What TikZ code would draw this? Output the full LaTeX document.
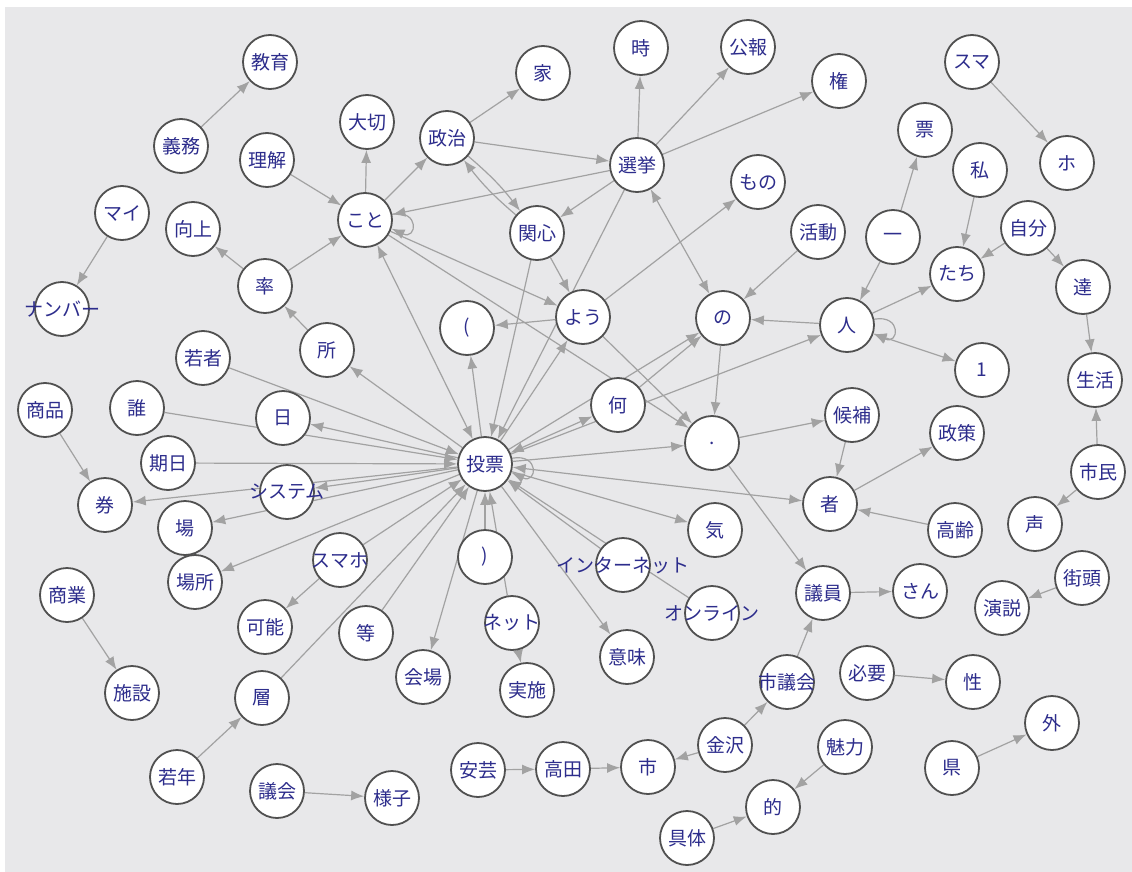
\documentclass[tikz,border=0pt]{standalone}
\usepackage{fontspec}
\newfontfamily\cjk{Noto Sans CJK JP}
\usetikzlibrary{arrows.meta}
\definecolor{bggray}{RGB}{232,232,234}
\definecolor{edgegray}{RGB}{162,162,162}
\definecolor{txtnavy}{RGB}{45,45,140}
\definecolor{ringgray}{RGB}{80,80,80}
\pgfdeclarelayer{bg}
\pgfdeclarelayer{edges}
\pgfsetlayers{bg,edges,main}
\tikzset{
  wnode/.style={circle, draw=ringgray, line width=1.8pt, fill=white, minimum size=54pt, inner sep=0pt,
    text=txtnavy, font=\cjk\fontsize{19}{19}\selectfont},
  ed/.style={draw=edgegray, line width=1.2pt, -{Latex[length=13pt,width=10pt]}},
  bd/.style={draw=edgegray, line width=1.2pt, {Latex[length=13pt,width=10pt]}-{Latex[length=13pt,width=10pt]}},
}
\newcommand{\wn}[4]{\node[wnode] (#1) at (#2,#3) {\makebox[0pt]{#4}};}
\begin{document}
\begin{tikzpicture}[x=1pt,y=-1pt]
\useasboundingbox (0,0) rectangle (1132,872);
\begin{pgfonlayer}{bg}
\fill[white] (0,0) rectangle (1132,872);
\fill[bggray] (5,7) rectangle (1132,872);
\end{pgfonlayer}
% nodes
\wn{kyoiku}{270}{62}{教育}
\wn{gimu}{181}{146}{義務}
\wn{rikai}{267}{160}{理解}
\wn{mai}{122}{213}{マイ}
\wn{kojo}{193}{229}{向上}
\wn{taisetsu}{367}{122}{大切}
\wn{koto}{365}{220}{こと}
\wn{ritsu}{265}{286}{率}
\wn{number}{62}{309}{ナンバー}
\wn{seiji}{447}{138}{政治}
\wn{ie}{543}{73}{家}
\wn{toki}{641}{48}{時}
\wn{koho}{748}{47}{公報}
\wn{ken}{839}{81}{権}
\wn{senkyo}{637}{165}{選挙}
\wn{kanshin}{537}{233}{関心}
\wn{mono}{758}{182}{もの}
\wn{katsudo}{818}{232}{活動}
\wn{ichi}{893}{237}{一}
\wn{hyo}{925}{130}{票}
\wn{suma}{972}{62}{スマ}
\wn{watashi}{980}{170}{私}
\wn{ho}{1067}{163}{ホ}
\wn{jibun}{1028}{228}{自分}
\wn{tachi}{957}{274}{たち}
\wn{tachii}{1083}{287}{達}
\wn{hito}{847}{325}{人}
\wn{one}{982}{370}{1}
\wn{seikatsu}{1095}{380}{生活}
\wn{no}{723}{318}{の}
\wn{yo}{583}{317}{よう}
\wn{lp}{467}{328}{(}
\wn{tokoro}{327}{350}{所}
\wn{wakamono}{203}{358}{若者}
\wn{dare}{137}{408}{誰}
\wn{hi}{283}{418}{日}
\wn{nani}{618}{405}{何}
\wn{dot}{712}{443}{.}
\wn{kohoo}{852}{415}{候補}
\wn{seisaku}{957}{433}{政策}
\wn{tohyo}{485}{464}{投票}
\wn{kijitsu}{168}{463}{期日}
\wn{shohin}{45}{410}{商品}
\wn{kenn}{105}{505}{券}
\wn{system}{287}{492}{システム}
\wn{ba}{185}{528}{場}
\wn{sha}{830}{504}{者}
\wn{shimin}{1098}{472}{市民}
\wn{korei}{955}{530}{高齢}
\wn{koe}{1035}{524}{声}
\wn{sumaho}{340}{560}{スマホ}
\wn{basho}{195}{582}{場所}
\wn{rp}{485}{557}{)}
\wn{internet}{623}{565}{インターネット}
\wn{ki}{715}{530}{気}
\wn{online}{712}{613}{オンライン}
\wn{giin}{823}{593}{議員}
\wn{san}{920}{591}{さん}
\wn{gaito}{1082}{578}{街頭}
\wn{enzetsu}{1002}{608}{演説}
\wn{shogyo}{67}{595}{商業}
\wn{kano}{265}{627}{可能}
\wn{toh}{366}{633}{等}
\wn{net}{512}{623}{ネット}
\wn{kaijo}{423}{677}{会場}
\wn{jisshi}{527}{690}{実施}
\wn{imi}{627}{657}{意味}
\wn{shigikai}{787}{682}{市議会}
\wn{hitsuyo}{867}{673}{必要}
\wn{sei}{973}{682}{性}
\wn{shisetsu}{132}{693}{施設}
\wn{so}{262}{698}{層}
\wn{soto}{1052}{723}{外}
\wn{miryoku}{845}{747}{魅力}
\wn{pref}{952}{768}{県}
\wn{kanazawa}{725}{745}{金沢}
\wn{aki}{478}{770}{安芸}
\wn{takada}{563}{769}{高田}
\wn{shi}{648}{767}{市}
\wn{jakunen}{177}{777}{若年}
\wn{gikai}{277}{791}{議会}
\wn{yosu}{392}{798}{様子}
\wn{teki}{773}{807}{的}
\wn{gutai}{687}{838}{具体}
% edges
\begin{pgfonlayer}{edges}
\draw[ed] (gimu) -- (kyoiku);
\draw[ed] (rikai) -- (koto);
\draw[ed] (mai) -- (number);
\draw[ed] (ritsu) -- (kojo);
\draw[ed] (ritsu) -- (koto);
\draw[ed] (koto) -- (taisetsu);
\draw[ed] (koto) -- (seiji);
\draw[ed] (koto.12) to[out=10,in=-25,looseness=5] (koto.-18);
\draw[ed] (seiji) -- (ie);
\draw[ed] (seiji) -- (senkyo);
\draw[ed] (seiji) to[bend left=6] (kanshin);
\draw[ed] (kanshin) to[bend left=6] (seiji);
\draw[ed] (senkyo) -- (toki);
\draw[ed] (senkyo) -- (koho);
\draw[ed] (senkyo) -- (ken);
\draw[ed] (senkyo) -- (koto);
\draw[ed] (senkyo) -- (kanshin);
\draw[bd] (senkyo) -- (no);
\draw[ed] (senkyo) -- (tohyo);
\draw[ed] (kanshin) -- (tohyo);
\draw[ed] (kanshin) -- (yo);
\draw[bd] (koto) -- (tohyo);
\draw[ed] (koto) -- (yo);
\draw[ed] (koto) -- (dot);
\draw[ed] (yo) -- (dot);
\draw[ed] (yo) -- (mono);
\draw[ed] (yo) -- (lp);
\draw[ed] (tohyo) -- (yo);
\draw[ed] (tohyo) -- (lp);
\draw[ed] (tohyo) -- (no);
\draw[ed] (nani) -- (no);
\draw[bd] (tohyo) -- (nani);
\draw[ed] (tohyo) -- (hito);
\draw[ed] (tohyo) -- (dot);
\draw[ed] (tohyo) -- (ki);
\draw[bd] (tohyo) -- (sha);
\draw[ed] (tohyo) -- (imi);
\draw[ed] (tohyo) -- (kaijo);
\draw[ed] (rp) -- (tohyo);
\draw[ed] (net) -- (tohyo);
\draw[ed] (net) -- (jisshi);
\draw[ed] (internet) -- (tohyo);
\draw[ed] (online) -- (tohyo);
\draw[ed] (toh) -- (tohyo);
\draw[ed] (so) -- (tohyo);
\draw[ed] (sumaho) -- (tohyo);
\draw[ed] (sumaho) -- (kano);
\draw[ed] (tohyo) -- (basho);
\draw[ed] (tohyo) -- (ba);
\draw[ed] (tohyo) -- (system);
\draw[ed] (tohyo) -- (kenn);
\draw[ed] (kijitsu) -- (tohyo);
\draw[ed] (dare) -- (tohyo);
\draw[ed] (tohyo) -- (hi);
\draw[ed] (wakamono) -- (tohyo);
\draw[ed] (tohyo) -- (tokoro);
\draw[ed] (tokoro) -- (ritsu);
\draw[ed] (tohyo.12) to[out=10,in=-25,looseness=5] (tohyo.-18);
\draw[ed] (no) -- (dot);
\draw[ed] (katsudo) -- (no);
\draw[ed] (hito) -- (no);
\draw[ed] (hito.12) to[out=10,in=-25,looseness=5] (hito.-18);
\draw[bd] (hito) -- (one);
\draw[ed] (ichi) -- (hyo);
\draw[ed] (ichi) -- (hito);
\draw[ed] (hito) -- (tachi);
\draw[ed] (watashi) -- (tachi);
\draw[ed] (jibun) -- (tachi);
\draw[ed] (jibun) -- (tachii);
\draw[ed] (tachii) -- (seikatsu);
\draw[ed] (shimin) -- (seikatsu);
\draw[ed] (shimin) -- (koe);
\draw[ed] (suma) -- (ho);
\draw[ed] (dot) -- (kohoo);
\draw[ed] (kohoo) -- (sha);
\draw[ed] (sha) -- (seisaku);
\draw[ed] (korei) -- (sha);
\draw[ed] (dot) -- (giin);
\draw[ed] (giin) -- (san);
\draw[ed] (shigikai) -- (giin);
\draw[ed] (kanazawa) -- (shigikai);
\draw[ed] (kanazawa) -- (shi);
\draw[ed] (aki) -- (takada);
\draw[ed] (takada) -- (shi);
\draw[ed] (gutai) -- (teki);
\draw[ed] (miryoku) -- (teki);
\draw[ed] (pref) -- (soto);
\draw[ed] (hitsuyo) -- (sei);
\draw[ed] (gaito) -- (enzetsu);
\draw[ed] (shohin) -- (kenn);
\draw[ed] (shogyo) -- (shisetsu);
\draw[ed] (jakunen) -- (so);
\draw[ed] (gikai) -- (yosu);
\end{pgfonlayer}
\end{tikzpicture}
\end{document}
